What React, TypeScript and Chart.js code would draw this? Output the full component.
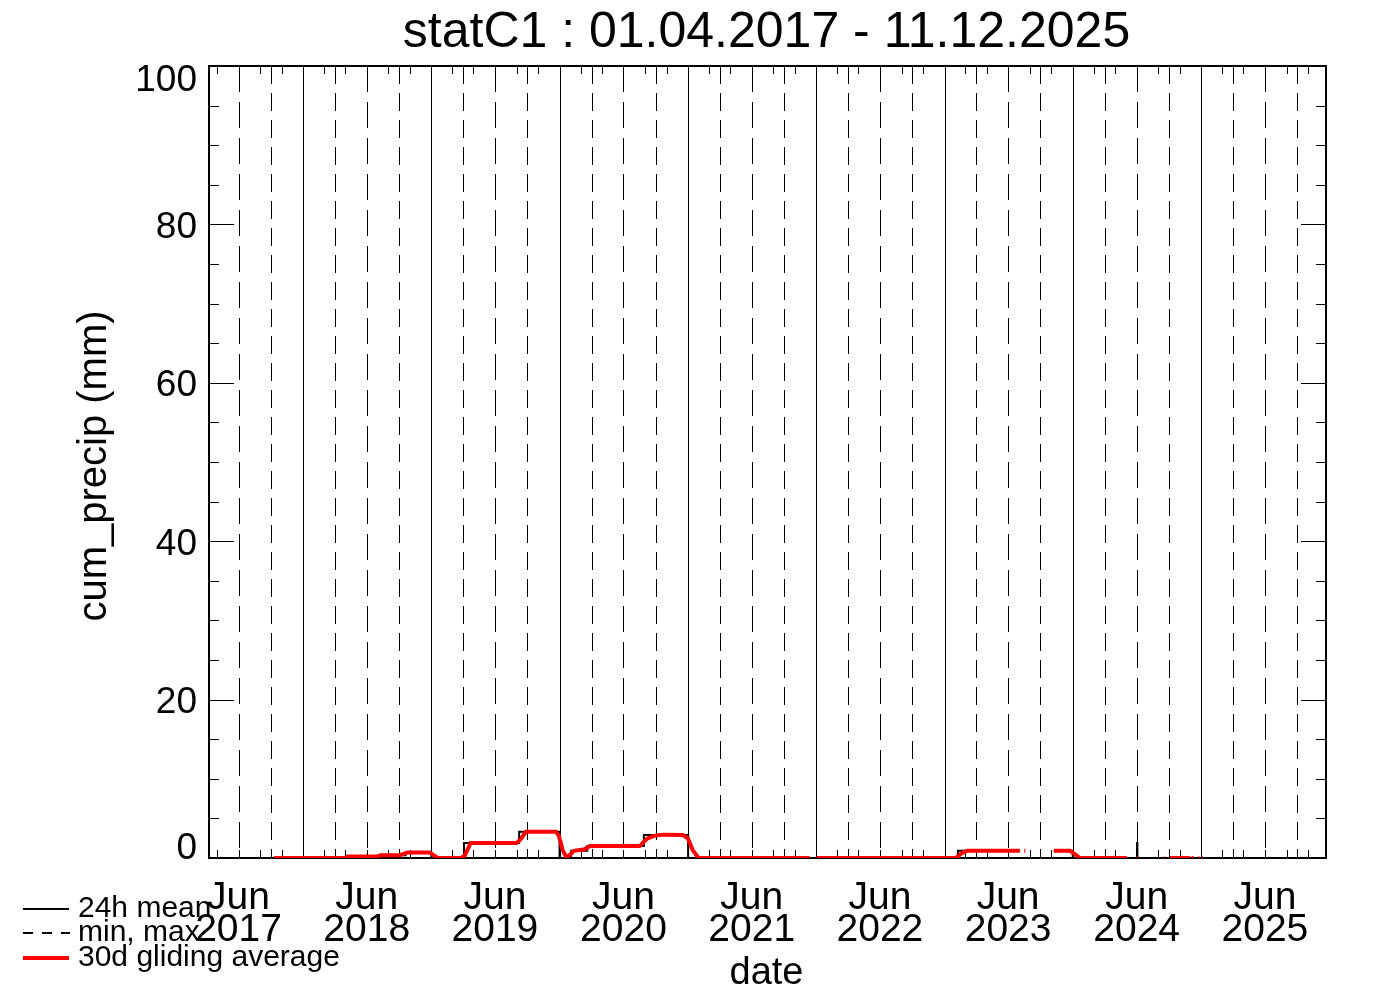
import React, { useEffect, useRef } from 'react';
import { Chart, registerables } from 'chart.js';

Chart.register(...registerables);

const FONT = '"Liberation Sans", Arial, Helvetica, sans-serif';

const TITLE = 'statC1 : 01.04.2017 - 11.12.2025';
const Y_TITLE = 'cum_precip (mm)';
const X_TITLE = 'date';

const X_MIN_DATE = '2017-04-08';
const X_MAX_DATE = '2025-12-22';
const Y_MIN = 0;
const Y_MAX = 100;

const tickDates = ['2017-07-01', '2018-07-01', '2019-07-01', '2020-07-01', '2021-07-01', '2022-07-01', '2023-07-01', '2024-07-01', '2025-07-01'];
const tickMonth = 'Jun';
const tickYears = ['2017', '2018', '2019', '2020', '2021', '2022', '2023', '2024', '2025'];
const yTickValues = [0, 20, 40, 60, 80, 100];

const legendLabels = ['24h mean', 'min, max', '30d gliding average'];

// 30d gliding average (red)
const avgDates = [
  '2017-10-10', '2018-05-02', '2018-05-08', '2018-08-01', '2018-08-10', '2018-10-03', '2018-10-26', '2018-12-27',
  '2019-01-19', '2019-03-26', '2019-04-06', '2019-04-23', '2019-09-01', '2019-09-13', '2019-09-27', '2019-12-22',
  '2019-12-30', '2020-01-10', '2020-01-19', '2020-01-28', '2020-02-11', '2020-03-13', '2020-03-27', '2020-08-16',
  '2020-09-05', '2020-09-25', '2020-10-21', '2020-12-17', '2020-12-31', '2021-01-14', '2021-01-29', '2021-02-03',
  '2021-12-13', '2021-12-14',
  '2022-01-02', '2023-02-02', '2023-02-19', '2023-03-06', '2023-08-03', '2023-08-04',
  '2023-08-16', '2023-08-19', '2023-08-20',
  '2023-11-08', '2023-12-24', '2024-01-10', '2024-01-21', '2024-06-03', '2024-06-04',
  '2024-07-01', '2024-07-03', '2024-07-04',
  '2024-09-18', '2024-09-20', '2024-09-21',
  '2024-10-04', '2024-11-30', '2024-12-01',
  '2024-12-04', '2024-12-10', '2024-12-11',
  '2024-12-17', '2024-12-19', '2024-12-20',
  '2024-12-23', '2024-12-26', '2024-12-27',
  '2025-01-04', '2025-01-06', '2025-01-07',
  '2025-01-13', '2025-01-14', '2025-01-15',
  '2025-01-23', '2025-01-24',
];
const avgValues = [
  0, 0, 0.2, 0.2, 0.35, 0.35, 0.7, 0.7,
  0, 0, 0.3, 1.9, 1.9, 2.4, 3.3, 3.3,
  2.8, 1.0, 0.2, 0.3, 0.9, 1.1, 1.5, 1.5,
  2.4, 2.8, 2.95, 2.9, 2.5, 1.0, 0.1, 0,
  0, null,
  0, 0, 0.6, 0.9, 0.9, null,
  0.9, 0.9, null,
  0.9, 0.9, 0.4, 0, 0, null,
  0, 0, null,
  0, 0, null,
  0, 0, null,
  0, 0, null,
  0, 0, null,
  0, 0, null,
  0, 0, null,
  0, 0, null,
  0, 0,
];

// 24h mean (black, stepped)
const meanDates = [
  '2017-10-10', '2018-05-05', '2018-08-05', '2018-10-20', '2019-01-01', '2019-04-04', '2019-09-08', '2020-01-01',
  '2020-02-03', '2020-03-20', '2020-08-28', '2021-01-01', '2021-12-13', '2021-12-14',
  '2022-01-02', '2023-02-08', '2023-08-03', '2023-08-04',
  '2023-11-08', '2024-01-01', '2024-06-03', '2024-06-04',
  '2024-07-01', '2024-07-02', '2024-07-03', '2024-07-04',
  '2024-10-04', '2024-11-30',
];
const meanValues = [
  0, 0.2, 0.35, 0.7, 0, 1.9, 3.3, 0,
  0.9, 1.5, 2.9, 0, 0, null,
  0, 0.9, 0.9, null,
  0.9, 0, 0, null,
  0, 1.9, 0, null,
  0, 0,
];

const day = (s: string) => Date.UTC(+s.slice(0, 4), +s.slice(5, 7) - 1, +s.slice(8, 10)) / 86400000;

const framePlugin = {
  id: 'idlFrame',
  beforeDatasetsDraw(chart: any) {
    const { ctx, chartArea: a, scales } = chart;
    const xs = scales.x;
    const ys = scales.y;
    ctx.save();
    ctx.strokeStyle = '#000';
    const line = (x1: number, y1: number, x2: number, y2: number) => {
      ctx.beginPath();
      ctx.moveTo(x1, y1);
      ctx.lineTo(x2, y2);
      ctx.stroke();
    };
    // vertical gridlines: Jan solid, Apr/Oct dashed, Jul long dashed
    for (let yr = 2016; yr <= 2026; yr++) {
      for (let m = 0; m < 12; m += 3) {
        const v = Date.UTC(yr, m, 1) / 86400000;
        if (v <= xs.min || v >= xs.max) continue;
        const px = Math.round(xs.getPixelForValue(v)) + 0.5;
        ctx.lineWidth = 1;
        ctx.setLineDash(m === 0 ? [] : m === 6 ? [26, 10] : [18, 9]);
        line(px, a.top, px, a.bottom);
      }
    }
    ctx.setLineDash([]);
    // x minor ticks every 2 months, top and bottom
    ctx.lineWidth = 1;
    for (let yr = 2016; yr <= 2026; yr++) {
      for (let m = 0; m < 12; m += 2) {
        const v = Date.UTC(yr, m, 1) / 86400000;
        if (v <= xs.min || v >= xs.max) continue;
        const px = Math.round(xs.getPixelForValue(v)) + 0.5;
        line(px, a.top, px, a.top + 8);
        line(px, a.bottom, px, a.bottom - 8);
      }
    }
    // y ticks every 5, longer every 20
    for (let v = Y_MIN; v <= Y_MAX; v += 5) {
      const py = Math.round(ys.getPixelForValue(v)) + 0.5;
      const len = v % 20 === 0 ? 25 : 10;
      line(a.left, py, a.left + len, py);
      line(a.right, py, a.right - len, py);
    }
    // frame
    ctx.lineWidth = 2;
    ctx.strokeRect(Math.round(a.left), Math.round(a.top), Math.round(a.right - a.left), Math.round(a.bottom - a.top));
    ctx.restore();
  },
  afterDraw(chart: any) {
    const { ctx, chartArea: a, scales } = chart;
    const ys = scales.y;
    ctx.save();
    ctx.fillStyle = '#000';
    // title
    ctx.font = `50px ${FONT}`;
    ctx.textAlign = 'center';
    ctx.textBaseline = 'alphabetic';
    ctx.fillText(TITLE, (a.left + a.right) / 2 - 1, 47);
    // y tick labels
    ctx.font = `37px ${FONT}`;
    ctx.textAlign = 'right';
    for (const v of yTickValues) {
      const py = ys.getPixelForValue(v);
      const c = Math.min(Math.max(py, a.top + 11), a.bottom - 13);
      ctx.fillText(String(v), a.left - 12, c + 13.5);
    }
    // x title
    ctx.textAlign = 'center';
    ctx.font = `38px ${FONT}`;
    ctx.fillText(X_TITLE, (a.left + a.right) / 2 - 1, 984);
    // y title
    ctx.save();
    ctx.translate(106, 466);
    ctx.rotate(-Math.PI / 2);
    ctx.font = `40px ${FONT}`;
    ctx.fillText(Y_TITLE, 0, 0);
    ctx.restore();
    // legend
    ctx.font = `30px ${FONT}`;
    ctx.textAlign = 'left';
    const rows = [909, 933, 958];
    const bases = [917, 941, 966];
    ctx.strokeStyle = '#000';
    ctx.lineWidth = 2;
    ctx.setLineDash([]);
    ctx.beginPath(); ctx.moveTo(23, rows[0]); ctx.lineTo(69, rows[0]); ctx.stroke();
    ctx.setLineDash([10, 9]);
    ctx.beginPath(); ctx.moveTo(23, rows[1]); ctx.lineTo(70, rows[1]); ctx.stroke();
    ctx.setLineDash([]);
    ctx.strokeStyle = '#ff0000';
    ctx.lineWidth = 4;
    ctx.beginPath(); ctx.moveTo(23, rows[2]); ctx.lineTo(69, rows[2]); ctx.stroke();
    legendLabels.forEach((t, i) => ctx.fillText(t, 78, bases[i]));
    ctx.restore();
  },
};

export default function App() {
  const ref = useRef<HTMLCanvasElement | null>(null);
  useEffect(() => {
    document.body.style.margin = '0';
    const canvas = ref.current;
    if (!canvas) return;
    const avgData = avgDates.map((d, i) => ({ x: day(d), y: avgValues[i] }));
    const meanData = meanDates.map((d, i) => ({ x: day(d), y: meanValues[i] }));
    const chart = new Chart(canvas, {
      type: 'line',
      data: {
        datasets: [
          {
            label: legendLabels[2],
            data: avgData as any,
            borderColor: '#ff0000',
            borderWidth: 4,
            pointRadius: 0,
            tension: 0,
            spanGaps: false,
          },
          {
            label: legendLabels[0],
            data: meanData as any,
            borderColor: '#000000',
            borderWidth: 2,
            pointRadius: 0,
            stepped: true,
            spanGaps: false,
          },
        ],
      },
      options: {
        animation: false,
        responsive: false,
        devicePixelRatio: 1,
        layout: { padding: { top: 66, right: 62, bottom: 0, left: 0 } },
        plugins: {
          legend: { display: false },
          title: { display: false },
          tooltip: { enabled: false },
        },
        scales: {
          x: {
            type: 'linear',
            min: day(X_MIN_DATE),
            max: day(X_MAX_DATE),
            bounds: 'data',
            grid: { display: false, drawTicks: false },
            border: { display: false },
            afterBuildTicks: (s: any) => {
              s.ticks = tickDates.map((d) => ({ value: day(d) }));
            },
            afterFit: (s: any) => {
              s.height = 134;
              s.paddingLeft = 0;
              s.paddingRight = 0;
            },
            ticks: {
              autoSkip: false,
              maxRotation: 0,
              minRotation: 0,
              padding: 24,
              color: '#000',
              font: { family: FONT, size: 39, lineHeight: 0.82 },
              callback: (_v: any, i: number) => [tickMonth, tickYears[i]],
            },
          },
          y: {
            type: 'linear',
            min: Y_MIN,
            max: Y_MAX,
            bounds: 'data',
            grid: { display: false, drawTicks: false },
            border: { display: false },
            ticks: { display: false },
            afterFit: (s: any) => {
              s.width = 209;
            },
          },
        },
      } as any,
      plugins: [framePlugin],
    });
    return () => chart.destroy();
  }, []);
  return (
    <div style={{ position: 'absolute', left: 0, top: 0, width: 1388, height: 992, background: '#fff' }}>
      <canvas ref={ref} width={1388} height={992} style={{ display: 'block', width: 1388, height: 992 }} />
    </div>
  );
}
